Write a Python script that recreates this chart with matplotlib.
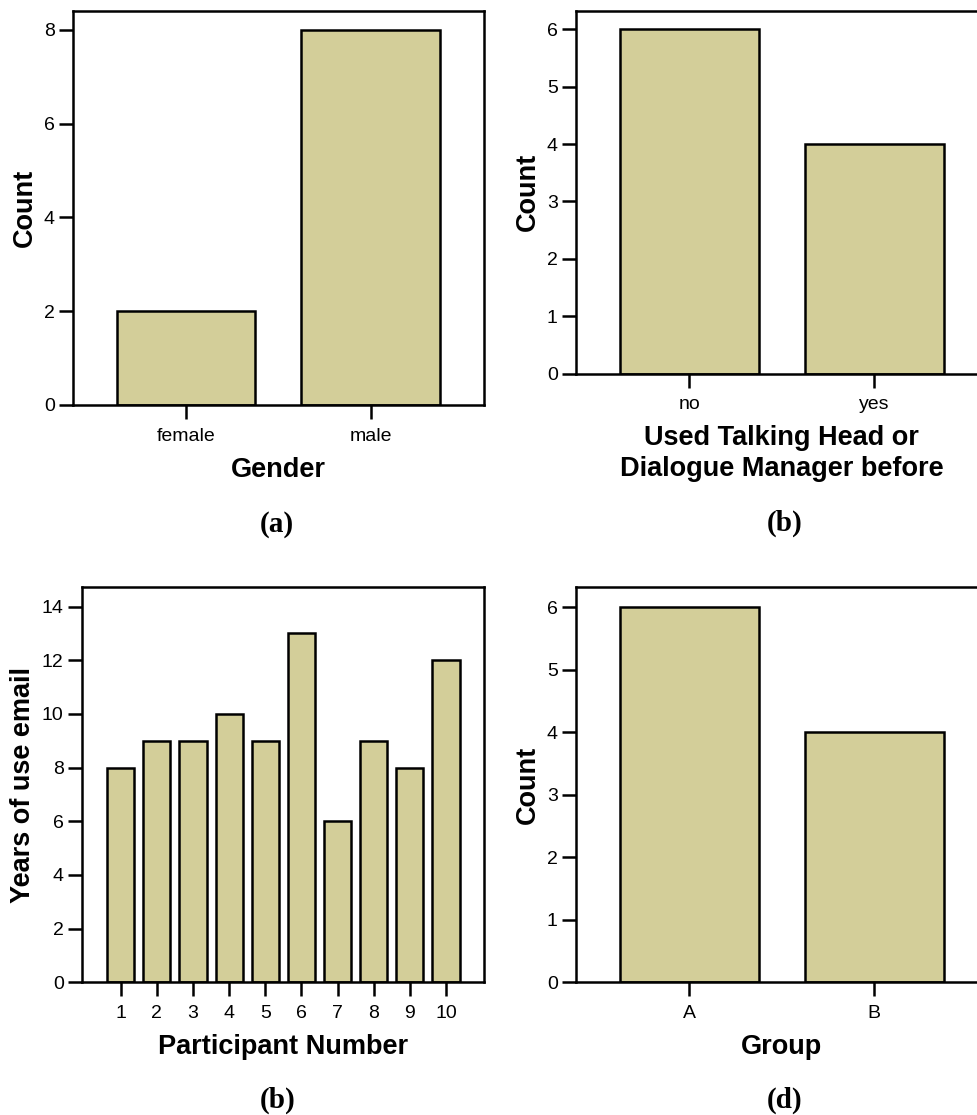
import numpy as np
import matplotlib
matplotlib.use('Agg')
import matplotlib.pyplot as plt

# data
gender_labels = ['female', 'male']
gender_counts = [2, 8]

used_labels = ['no', 'yes']
used_counts = [6, 4]

participant_ids = [1, 2, 3, 4, 5, 6, 7, 8, 9, 10]
years_email = [8, 9, 9, 10, 9, 13, 6, 9, 8, 12]

group_labels = ['A', 'B']
group_counts = [6, 4]

BAR = '#d3ce99'
W, H = 977, 1115
LW = 1.8

plt.rcParams['font.family'] = ['Liberation Sans', 'DejaVu Sans']
plt.rcParams['axes.linewidth'] = LW

fig = plt.figure(figsize=(W / 100, H / 100), dpi=100)


def px_axes(left, top, right, bottom):
    return fig.add_axes([left / W, 1 - bottom / H, (right - left) / W, (bottom - top) / H])


def style(ax, xlabel, ylabel):
    ax.tick_params(direction='out', length=10, width=LW, labelsize=14,
                   top=False, right=False)
    ax.tick_params(axis='x', pad=6.5)
    ax.tick_params(axis='y', pad=3)
    ax.set_xlabel(xlabel, fontsize=19.5, fontweight='bold', labelpad=8.5, linespacing=1.25)
    ax.set_ylabel(ylabel, fontsize=19.5, fontweight='bold', labelpad=4)


def bar_panel(ax, labels, counts, ymax, yticks, xlabel, ylabel):
    x = np.arange(len(labels))
    ax.bar(x, counts, width=0.75, color=BAR, edgecolor='black', linewidth=LW, zorder=2)
    ax.set_xticks(x)
    ax.set_xticklabels(labels)
    ax.set_xlim(-0.615, 1.615)
    ax.set_ylim(0, ymax)
    ax.set_yticks(yticks)
    style(ax, xlabel, ylabel)


ax1 = px_axes(72.7, 11, 484, 405)
bar_panel(ax1, gender_labels, gender_counts, 8.405, [0, 2, 4, 6, 8], 'Gender', 'Count')

ax2 = px_axes(575.7, 11, 988, 373.5)
bar_panel(ax2, used_labels, used_counts, 6.32, range(7),
          'Used Talking Head or\nDialogue Manager before', 'Count')

ax3 = px_axes(81.7, 587.3, 484, 982.3)
ax3.bar(participant_ids, years_email, width=0.75, color=BAR, edgecolor='black',
        linewidth=LW, zorder=2)
ax3.set_xticks(participant_ids)
ax3.set_xlim(-0.08, 11.05)
ax3.set_ylim(0, 14.72)
ax3.set_yticks(range(0, 15, 2))
style(ax3, 'Participant Number', 'Years of use email')

ax4 = px_axes(575.7, 587.3, 988, 982.3)
bar_panel(ax4, group_labels, group_counts, 6.32, range(7), 'Group', 'Count')

cap = dict(family=['Liberation Serif', 'DejaVu Serif'], fontweight='bold',
           fontsize=21, ha='center', va='center')
fig.text(277 / W, 1 - 525 / H, '(a)', **cap)
fig.text(785 / W, 1 - 523 / H, '(b)', **cap)
fig.text(278 / W, 1 - 1100 / H, '(b)', **cap)
fig.text(785 / W, 1 - 1100 / H, '(d)', **cap)

fig.savefig('out.png', dpi=100)
